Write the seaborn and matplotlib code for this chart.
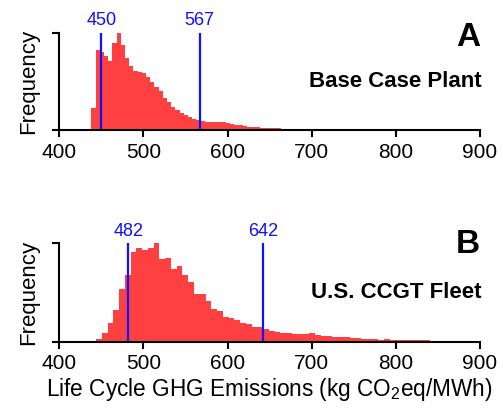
import pandas as pd
import seaborn as sns
import matplotlib.pyplot as plt
from matplotlib import transforms

# panel A: base case plant, bins of 5 starting at 438
start_a, width_a = 438, 5
freq_a = [0.23, 0.83, 0.80, 0.76, 0.71, 0.90, 1.00, 0.88, 0.74, 0.66,
          0.61, 0.60, 0.59, 0.55, 0.50, 0.44, 0.40, 0.33, 0.29, 0.24,
          0.21, 0.18, 0.155, 0.14, 0.11, 0.10, 0.093, 0.088, 0.088, 0.086,
          0.086, 0.08, 0.07, 0.06, 0.055, 0.05, 0.04, 0.035, 0.03, 0.03,
          0.025, 0.025, 0.02, 0.02, 0.018, 0.016, 0.014, 0.014, 0.012, 0.014,
          0.01, 0.012, 0.01, 0.01, 0.009, 0.009, 0.008, 0.008, 0.008, 0.008,
          0.007, 0.007]
lines_a = [450, 567]

# panel B: U.S. CCGT fleet, bins of 6.85 starting at 436.8
start_b, width_b = 436.8, 6.85
freq_b = [0.01, 0.03, 0.085, 0.19, 0.32, 0.54, 0.68, 0.91, 0.95, 0.93,
          0.95, 1.00, 0.84, 0.85, 0.74, 0.77, 0.68, 0.61, 0.49, 0.49,
          0.41, 0.33, 0.31, 0.25, 0.24, 0.22, 0.19, 0.18, 0.15, 0.146,
          0.125, 0.11, 0.10, 0.085, 0.085, 0.075, 0.075, 0.08, 0.085, 0.065,
          0.06, 0.06, 0.05, 0.045, 0.045, 0.04, 0.035, 0.03, 0.03, 0.025,
          0.022, 0.025, 0.02, 0.018, 0.016, 0.015, 0.013, 0.013, 0.014, 0.011,
          0.012, 0.01, 0.008]
lines_b = [482, 642]

sns.set_style("ticks")
plt.rcParams['font.family'] = ['Liberation Sans', 'DejaVu Sans']
plt.rcParams['mathtext.fontset'] = 'custom'
plt.rcParams['mathtext.rm'] = 'Liberation Sans'
plt.rcParams['text.color'] = 'black'
plt.rcParams['axes.labelcolor'] = 'black'
plt.rcParams['xtick.color'] = 'black'
plt.rcParams['ytick.color'] = 'black'

red = "#ff4040"
blue = "#1010ff"

fig = plt.figure(figsize=(5.03, 4.08), dpi=100)
ax_a = fig.add_axes([0.118, 0.681, 0.836, 0.238])
ax_b = fig.add_axes([0.118, 0.1625, 0.836, 0.241])

panels = [
    (ax_a, start_a, width_a, freq_a, lines_a, "A", "Base Case Plant"),
    (ax_b, start_b, width_b, freq_b, lines_b, "B", "U.S. CCGT Fleet"),
]

for ax, start, width, freq, vlines, letter, name in panels:
    edges = [start + width * i for i in range(len(freq) + 1)]
    centers = [e + width / 2 for e in edges[:-1]]
    df = pd.DataFrame({"emis": centers, "freq": freq})
    sns.histplot(data=df, x="emis", weights="freq", bins=edges, ax=ax,
                 element="step", fill=True, color=red, alpha=1, linewidth=0)
    ax.set_xlim(400, 900)
    ax.set_ylim(0, 1.0)
    ax.set_xticks([400, 500, 600, 700, 800, 900])
    ax.set_yticks([0, 1.0])
    ax.set_yticklabels([])
    ax.tick_params(axis="x", labelsize=15, length=5, width=1.5, pad=4)
    ax.tick_params(axis="y", length=5, width=1.5)
    for s in ["top", "right"]:
        ax.spines[s].set_visible(False)
    for s in ["left", "bottom"]:
        ax.spines[s].set_linewidth(1.5)
        ax.spines[s].set_color("black")
    ax.set_ylabel("Frequency", fontsize=16, labelpad=6)
    ax.set_xlabel("")

    trans = transforms.blended_transform_factory(ax.transData, ax.transAxes)
    for v in vlines:
        ax.axvline(v, color=blue, lw=1.6)
        ax.text(v, 1.08, str(v), transform=trans, color=blue, fontsize=13,
                ha="center", va="baseline")

    ax.text(1.0, 0.95 if letter == "A" else 0.99, letter, transform=ax.transAxes,
            fontsize=24, fontweight="bold", ha="right", va="center")
    ax.text(1.005, 0.5, name, transform=ax.transAxes, fontsize=16,
            fontweight="bold", ha="right", va="center")

ax_b.set_xlabel(r"Life Cycle GHG Emissions (kg CO$_2$eq/MWh)", fontsize=16.3,
                labelpad=2)

fig.savefig("out.png", dpi=100)
